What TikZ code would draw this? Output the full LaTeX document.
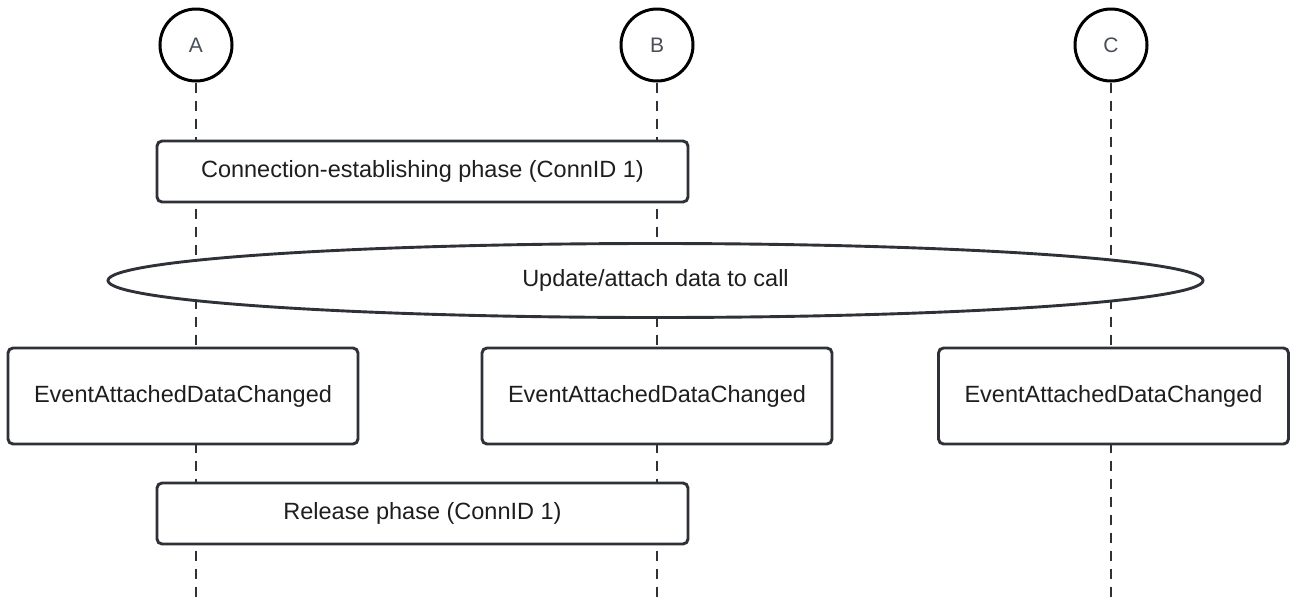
\documentclass[tikz,border=0pt]{standalone}
\usepackage{fontspec}
\setmainfont{Liberation Sans}
\usetikzlibrary{shapes.geometric}
\definecolor{linec}{HTML}{2E3138}
\definecolor{txtc}{HTML}{1E1E1E}
\definecolor{lblc}{HTML}{4A4F58}
\begin{document}
\begin{tikzpicture}[x=1pt,y=-1pt,
  actor/.style={circle,draw=black,line width=3pt,fill=white,minimum size=72pt,inner sep=0pt,text=lblc,font=\fontsize{21}{24}\selectfont},
  lifeline/.style={draw=linec,line width=2.8pt,dash pattern=on 10pt off 8pt},
  phasebox/.style={draw=linec,line width=2.9pt,rounded corners=5pt,fill=white,text=txtc,inner sep=0pt,font=\fontsize{23.5}{27}\selectfont},
  evbox/.style={phasebox,minimum width=350pt,minimum height=96pt},
  widebox/.style={phasebox,minimum width=531pt,minimum height=61pt},
  bigell/.style={ellipse,draw=linec,line width=2.9pt,fill=white,text=txtc,inner sep=0pt,minimum width=1095pt,minimum height=74pt,font=\fontsize{23.5}{27}\selectfont}]
\useasboundingbox (0,0) rectangle (1294,598);
\node[actor] (A) at (196,45) {A};
\node[actor] (B) at (657,45) {B};
\node[actor] (C) at (1111,45) {C};
\coordinate (Aend) at (196,598);
\coordinate (Bend) at (657,598);
\coordinate (Cend) at (1111,598);
\draw[lifeline] (A.south) -- (Aend);
\draw[lifeline] (B.south) -- (Bend);
\draw[lifeline] (C.south) -- (Cend);
\node[widebox] (conn) at (422.5,171.5) {Connection-establishing phase (ConnID 1)};
\node[bigell] (upd) at (655.5,280.5) {Update/attach data to call};
\node[evbox] (evA) at (183,396) {EventAttachedDataChanged};
\node[evbox] (evB) at (657,396) {EventAttachedDataChanged};
\node[evbox] (evC) at (1113.5,396) {EventAttachedDataChanged};
\node[widebox] (rel) at (422.5,513.5) {Release phase (ConnID 1)};
\end{tikzpicture}
\end{document}
